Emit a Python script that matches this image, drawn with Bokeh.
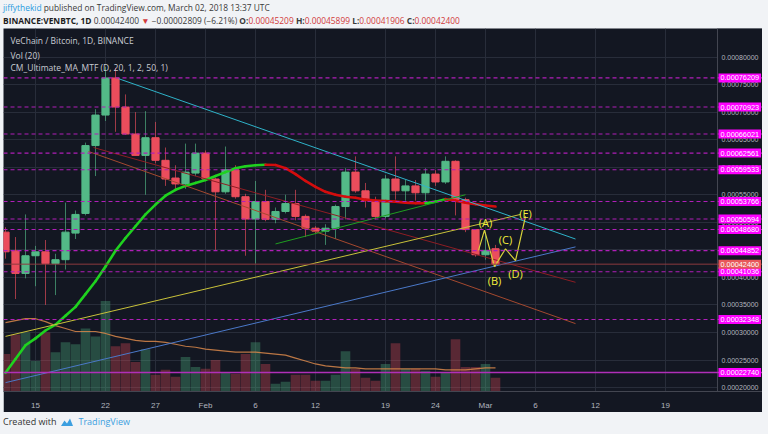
from bokeh.plotting import figure
from bokeh.models import (Range1d, FixedTicker, Span, Label, BoxAnnotation,
                          ColumnDataSource, Div)
from bokeh.layouts import column
from bokeh.embed import file_html
from bokeh.resources import INLINE
from bokeh.core.properties import value

# ---------------- data (day = days since 2018-01-01; prices in satoshi = 1e-8 BTC) -------------
days = list(range(11, 61))
opens_sat = [48215, 44822, 40715, 43929, 44644, 42501, 43215, 48036, 51608, 63929,
             69465, 76209, 70923, 66021, 62144, 65358, 61251, 58036, 56965, 58929,
             62561, 57858, 55536, 59533, 54644, 50594, 53766, 50536, 51965, 53394,
             51072, 48929, 48394, 48929, 52858, 59108, 55715, 53929, 51072, 57858,
             55715, 56608, 55358, 58751, 57322, 61072, 54108, 48680, 44108, 45209]
highs_sat = [49108, 47322, 51429, 45715, 46787, 44287, 53572, 52144, 64465, 70536,
             78215, 78036, 73215, 70001, 70179, 68215, 63572, 60358, 64286, 64286,
             63036, 58036, 63751, 60358, 55179, 57501, 55894, 52679, 55001, 55894,
             51429, 49286, 49644, 53215, 59822, 61965, 57144, 54644, 58572, 61965,
             57679, 57679, 59822, 59465, 61965, 61251, 54465, 48751, 48215, 45899]
lows_sat = [43394, 36072, 39822, 38394, 35001, 36787, 41429, 46965, 51251, 58394,
            68393, 66429, 65893, 62144, 55001, 60715, 56608, 56072, 56072, 58394,
            57501, 45001, 55179, 54286, 43929, 42501, 50179, 49822, 51608, 50358,
            47322, 47858, 45894, 46965, 50536, 55358, 52679, 50536, 50715, 54108,
            53929, 53929, 53929, 56608, 56965, 51251, 48215, 43751, 43215, 41906]
closes_sat = [44644, 40715, 43929, 44644, 42501, 43215, 48215, 51429, 63929, 69465,
              76209, 70923, 66021, 62144, 65358, 61251, 57858, 56965, 59108, 62561,
              57858, 55536, 59533, 54644, 50594, 53766, 50536, 51965, 53394, 51072,
              48929, 48394, 48929, 52858, 59108, 55715, 53929, 51072, 57858, 55715,
              56608, 55358, 58751, 57322, 61072, 54108, 48680, 44108, 44852, 42400]
volume = [38, 58, 60, 31, 60, 40, 50, 48, 64, 56, 92, 46, 49, 30, 43, 17, 22, 15, 35, 25,
          23, 32, 19, 18, 38, 50, 28, 8, 10, 17, 17, 11, 11, 17, 41, 23, 14, 11, 28, 49,
          23, 23, 21, 15, 19, 53, 25, 25, 28, 14]
vol_ma20 = [70, 72, 74, 74, 71, 67, 64, 61, 61, 61, 59, 56, 54, 52, 51, 51, 50, 48, 46, 45,
            43, 42, 41, 40, 40, 40, 39, 38, 37, 34, 31, 28, 26, 25, 24, 24, 23, 23, 23, 23,
            23, 23, 23, 23, 22, 22, 22, 23, 24, 24]
ma20_sat = [22680, 25179, 27679, 28929, 30358, 31429, 33037, 34644, 36965, 39287,
            41965, 44822, 47144, 49286, 51429, 53215, 54822, 55894, 56608, 57144,
            57679, 58394, 59108, 59822, 60180, 60358, 60447, 60390, 59822, 58751,
            57501, 56429, 55536, 55001, 54644, 54465, 54108, 53929, 53840, 53751,
            53572, 53483, 53447, 53750, 54197, 53929, 53572, 53304, 53036, 52858]

level_lines_sat = [76209, 70923, 66021, 62561, 59533, 53766, 50594, 48680, 44852, 41036, 32348]
level_solid_sat = 22740
last_close_sat = 42400

# drawings (anchor points)
trend_lines = {
    "#2fb3c9": ([22.3, 68.0], [76072, 46965]),
    "#8e1e24": ([19.8, 68.0], [63572, 39108]),
    "#a4492f": ([19.3, 68.0], [62858, 31608]),
    "#c9c23a": ([11.0, 62.5], [29287, 51429]),
    "#1f9e1f": ([38.0, 57.0], [46072, 55001]),
    "#4b79c9": ([11.0, 68.0], [20894, 45536]),
}
wave_x = [58.3, 58.9, 59.9, 61.0, 62.0, 63.0]
wave_y_sat = [44900, 48572, 41965, 45179, 43036, 51072]
wave_labels = ["(A)", "(B)", "(C)", "(D)", "(E)"]
wave_label_x = [59.0, 59.9, 61.0, 62.0, 63.0]
wave_label_y_sat = [50001, 39465, 46787, 40715, 51608]

tick_days = [14, 21, 26, 31, 36, 42, 49, 54, 59, 64, 70, 77]
tick_text = ["15", "22", "27", "Feb", "6", "12", "19", "24", "Mar", "6", "12", "19"]
price_ticks = [0.0002 + 0.00005 * i for i in range(13)]

SAT = 1e-8
opens = [v * SAT for v in opens_sat]
highs = [v * SAT for v in highs_sat]
lows = [v * SAT for v in lows_sat]
closes = [v * SAT for v in closes_sat]
ma20 = [v * SAT for v in ma20_sat]

BG = "#131722"
UP = "#53b987"
DOWN = "#eb4d5c"
AXIS_TXT = "#b2b5be"
FONT = "Open Sans"
AXFONT = "Liberation Sans"

# ---------------- figure ----------------
X0, X1 = 10.8, 86.7      # full dark width
AX = 82.2                # start of the price scale
Y0, Y1 = 0.000192857, 0.000851786
p = figure(width=759, height=384, x_range=Range1d(X0, X1), y_range=Range1d(Y0, Y1),
           y_axis_location="right", toolbar_location=None, output_backend="svg",
           min_border_left=0, min_border_top=0, min_border_bottom=15, min_border_right=0,
           background_fill_color=BG, border_fill_color=BG, margin=(0, 0, 0, 3))
p.outline_line_color = None
p.yaxis.visible = False
p.extra_y_ranges = {"vol": Range1d(0, 369)}

p.xaxis.ticker = FixedTicker(ticks=tick_days)
p.xaxis.major_label_overrides = {d: t for d, t in zip(tick_days, tick_text)}
p.xaxis.major_label_text_color = AXIS_TXT
p.xaxis.major_label_text_font = AXFONT
p.xaxis.major_label_text_font_size = "8px"
p.xaxis.major_tick_line_color = None
p.xaxis.minor_tick_line_color = None
p.xaxis.axis_line_color = "#434651"
p.xaxis.major_label_standoff = 3
p.xgrid.ticker = FixedTicker(ticks=tick_days)
p.ygrid.ticker = FixedTicker(ticks=price_ticks)
p.grid.grid_line_color = "#282d3a"
p.grid.grid_line_width = 1

# price-scale panel background (hides grid) and separator
p.add_layout(BoxAnnotation(left=AX, fill_color=BG, fill_alpha=1.0, line_color=None, level="underlay"))
p.add_layout(Span(location=AX, dimension="height", line_color="#434651", line_width=1))

colors = [UP if c >= o else DOWN for o, c in zip(opens, closes)]
src = ColumnDataSource(dict(
    x=days, o=opens, h=highs, l=lows, c=closes,
    top=[max(o, c) for o, c in zip(opens, closes)],
    bot=[min(o, c) for o, c in zip(opens, closes)],
    vol=volume, vma=vol_ma20, color=colors))

# volume
p.vbar(x="x", width=0.96, top="vol", bottom=0, source=src, y_range_name="vol",
       fill_color="color", fill_alpha=0.33, line_color=None)
p.line(days, vol_ma20, y_range_name="vol", line_color="#d9874a", line_width=1.2, line_alpha=0.85)

# price scale tick labels
p.text(x=[AX + 0.4] * len(price_ticks), y=price_ticks, text=[f"{t:.8f}" for t in price_ticks],
       text_color=AXIS_TXT, text_font=value(AXFONT), text_font_size="7px",
       text_align="left", text_baseline="middle")

# horizontal levels
for lv in level_lines_sat:
    p.add_layout(Span(location=lv * SAT, dimension="width", line_color="#b01fb8",
                      line_dash="4 3", line_width=1.1))
p.add_layout(Span(location=level_solid_sat * SAT, dimension="width", line_color="#b02fb8",
                  line_width=1.5))
p.add_layout(Span(location=last_close_sat * SAT, dimension="width", line_color="#8c3a3f",
                  line_width=1))

# candles
p.segment(x0="x", y0="h", x1="x", y1="l", source=src, line_color="color", line_alpha=0.65, line_width=1)
p.vbar(x="x", width=0.72, top="top", bottom="bot", source=src, fill_color="color", line_color="color")

# CM Ultimate MA coloured by slope
seg = ColumnDataSource(dict(
    x0=days[:-1], x1=days[1:], y0=ma20[:-1], y1=ma20[1:],
    color=["#1fd21f" if b >= a else "#d40d0d" for a, b in zip(ma20[:-1], ma20[1:])]))
p.segment(x0="x0", y0="y0", x1="x1", y1="y1", source=seg, line_color="color",
          line_width=2.6, line_cap="round")

# trend lines
for col, (xs, ys) in trend_lines.items():
    p.line(xs, [v * SAT for v in ys], line_color=col, line_width=1)

# wave pattern
p.line(wave_x, [v * SAT for v in wave_y_sat], line_color="#d8d23a", line_width=1.2)
p.text(x=wave_label_x, y=[v * SAT for v in wave_label_y_sat], text=wave_labels,
       text_color="#f2ee3c", text_font=value(FONT), text_font_size="11px",
       text_align="center", text_baseline="middle")

# legends (top-left)
for txt, yv in (("VeChain / Bitcoin, 1D, BINANCE", 0.00083036),
                ("Vol (20)", 0.00080358),
                ("CM_Ultimate_MA_MTF (D, 20, 1, 2, 50, 1)", 0.00078036)):
    p.add_layout(Label(x=11.5, y=yv, text=txt, text_color="#c9ccd3", text_font=FONT,
                       text_font_size="8.5px", text_baseline="middle", text_align="left"))

# price-scale labels for the drawn levels
def price_label(lv, bg):
    p.add_layout(Label(x=AX, y=lv * SAT, x_offset=1, text=f"{lv * SAT:.8f}", text_color="white",
                       text_font=AXFONT, text_font_size="7.3px", text_baseline="middle",
                       text_align="left", background_fill_color=bg, padding=2))

for lv in level_lines_sat:
    price_label(lv, "#ff00ff")
price_label(level_solid_sat, "#ff00ff")
price_label(last_close_sat, "#e8585a")

header = Div(width=768, height=28, margin=0, text=(
    '<div style="padding:1px 0 0 3px;font-family:\'Open Sans\',sans-serif;'
    'font-size:8.4px;line-height:13px;color:#3a3a3a;white-space:nowrap">'
    '<div><span style="color:#2a9be0">jiffythekid</span> published on TradingView.com, March 02, 2018 13:37 UTC</div>'
    '<div><b style="color:#1e1e1e">BINANCE:VENBTC, 1D</b> 0.00042400 <span style="color:#d23b3b">&#9660;</span> '
    '&minus;0.00002809 (&minus;6.21%) '
    '<b>O:</b><span style="color:#d23b3b">0.00045209</span> <b>H:</b><span style="color:#d23b3b">0.00045899</span> '
    '<b>L:</b><span style="color:#d23b3b">0.00041906</span> <b>C:</b><span style="color:#d23b3b">0.00042400</span></div>'
    '</div>'))
footer = Div(width=768, height=22, margin=0, text=(
    '<div style="padding:4px 0 0 3px;font-family:\'Open Sans\',sans-serif;font-size:9px;line-height:12px;'
    'color:#333;white-space:nowrap;display:flex;align-items:center;gap:4px">'
    '<span>Created with</span>'
    '<svg width="14" height="10" viewBox="0 0 14 10"><path d="M1 9 L4.5 3.5 L7 6.5 L10 1.5 L13 9 Z" fill="#3c9fe0"/></svg>'
    '<span style="color:#3c9fe0">TradingView</span></div>'))

layout = column(header, p, footer, spacing=0, styles={"background-color": "#f1f3f6"})
open("out.html", "w").write(file_html(layout, INLINE))
